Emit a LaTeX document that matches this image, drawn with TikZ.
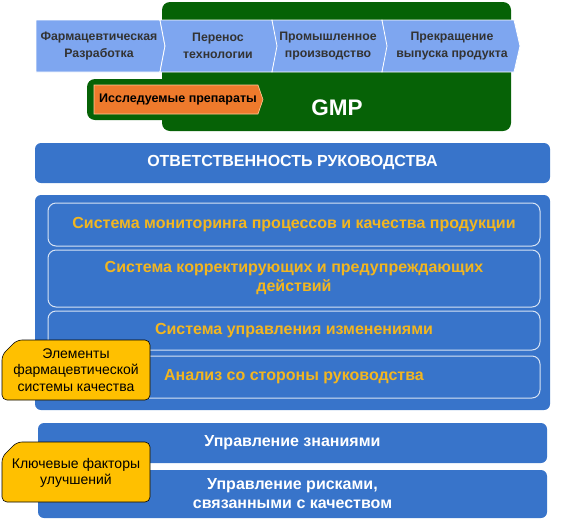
\documentclass[tikz,border=0pt]{standalone}
\usepackage{fontspec}
\setmainfont{Liberation Sans}

\definecolor{gmpgreen}{RGB}{6,98,6}
\definecolor{stageblue}{RGB}{126,166,240}
\definecolor{imporange}{RGB}{238,122,44}
\definecolor{mainblue}{RGB}{56,116,202}
\definecolor{goldtext}{RGB}{242,182,32}
\definecolor{calloutyellow}{RGB}{255,192,0}

\tikzset{
  stagetext/.style={font=\bfseries\fontsize{12.3}{17}\selectfont, align=center, text=black!80},
  bluebar/.style={fill=mainblue, rounded corners=6pt, inner sep=0pt},
  innerbox/.style={draw=white!80!mainblue, line width=1pt, rounded corners=8pt, inner sep=0pt,
    font=\bfseries\fontsize{16}{19}\selectfont, text=goldtext, align=center},
  whitetext/.style={font=\bfseries\fontsize{16}{19}\selectfont, text=white, align=center},
  callout/.style={draw=black, fill=calloutyellow, line width=0.6pt, rounded corners=5pt},
  callouttext/.style={font=\fontsize{14}{16.5}\selectfont, align=center, text=black}
}

\begin{document}
\begin{tikzpicture}[x=1pt,y=-1pt]
\useasboundingbox (0,0) rectangle (563,523);

% GMP area (dark green)
\fill[gmpgreen, rounded corners=8pt] (162,2) rectangle (511,131);
\fill[gmpgreen, rounded corners=8pt] (87,79) rectangle (180,120);

% Life cycle stages
\fill[stageblue, draw=white, line width=0.8pt] (36,20) -- (160,20) -- (165,46) -- (160,72) -- (36,72) -- cycle;
\foreach \xa/\xb in {160/272,272/382,382/514}
  \fill[stageblue, draw=white, line width=0.8pt] (\xa,20) -- (\xb,20) -- (\xb+6,46) -- (\xb,72) -- (\xa,72) -- (\xa+5,46) -- cycle;

\node[stagetext] (pharmdev) at (99,46) {Фармацевтическая\\Разработка};
\node[stagetext] (techtransfer) at (218,46) {Перенос\\технологии};
\node[stagetext] (manufacturing) at (328,46) {Промышленное\\производство};
\node[stagetext] (discontinuation) at (452,46) {Прекращение\\выпуска продукта};

% Investigational products
\fill[imporange, draw=orange!40, line width=0.6pt] (94,85) -- (258,85) -- (263,99.5) -- (258,114) -- (94,114) -- cycle;
\node[font=\bfseries\fontsize{12.5}{14}\selectfont, text=black] (investigational) at (178,99.5) {Исследуемые препараты};

\node[font=\bfseries\fontsize{22.5}{26}\selectfont, text=white] (gmp) at (337,108) {GMP};

% Management responsibility
\node[bluebar, whitetext, minimum width=515pt, minimum height=40pt] (responsibility) at (292.5,163) {ОТВЕТСТВЕННОСТЬ РУКОВОДСТВА};

% Pharmaceutical quality system elements
\node[bluebar, minimum width=515pt, minimum height=215pt] (elements) at (292.5,302.5) {};
\node[innerbox, minimum width=492pt, minimum height=43pt] (monitoring) at (294,224.5) {Система мониторинга процессов и качества продукции};
\node[innerbox, minimum width=492pt, minimum height=57pt] (capa) at (294,278.5) {Система корректирующих и предупреждающих\\действий};
\node[innerbox, minimum width=492pt, minimum height=39pt] (changemgmt) at (294,330.5) {Система управления изменениями};
\node[innerbox, minimum width=492pt, minimum height=42pt] (review) at (294,377) {Анализ со стороны руководства};

\draw[callout] (17,340) -- (150,340) -- (150,400) -- (2,400) -- (2,355) -- cycle;
\node[callouttext] (elementslabel) at (76,370) {Элементы\\фармацевтической\\системы качества};

% Enablers
\node[bluebar, whitetext, minimum width=509pt, minimum height=40pt] (knowledge) at (292.5,443) {Управление знаниями};
\node[bluebar, whitetext, minimum width=509pt, minimum height=48pt] (risk) at (292.5,494) {Управление рисками,\\связанными с качеством};

\draw[callout] (17,442) -- (150,442) -- (150,502) -- (2,502) -- (2,457) -- cycle;
\node[callouttext] (enablerslabel) at (76,473) {Ключевые факторы\\улучшений};
\end{tikzpicture}
\end{document}
